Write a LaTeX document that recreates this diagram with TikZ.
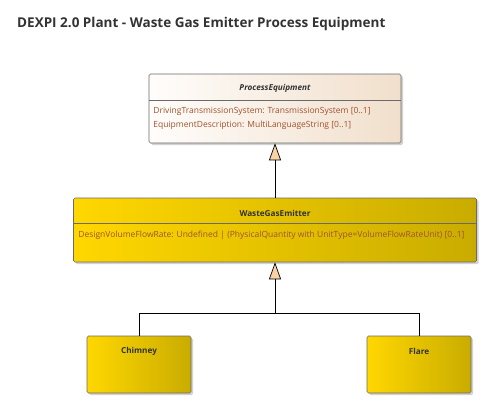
\documentclass[tikz,border=0pt]{standalone}
\usepackage{fontspec}
\setmainfont{Open Sans}
\usetikzlibrary{arrows.meta, positioning, calc, shadows}

\definecolor{txtgray}{HTML}{333333}
\definecolor{attrbrown}{HTML}{A0522D}
\definecolor{edgegray}{HTML}{6A6A6A}
\definecolor{goldlight}{HTML}{FFD700}
\definecolor{golddark}{HTML}{C9AC00}
\definecolor{cream}{HTML}{FFFDFB}
\definecolor{beige}{HTML}{F1DFCC}
\definecolor{peach}{HTML}{F9D3A6}

\begin{document}
\begin{tikzpicture}[
  x=1pt, y=-1pt,
  classbox/.style={rectangle, draw=edgegray, rounded corners=1.5pt, line width=0.6pt,
    drop shadow={shadow xshift=2pt, shadow yshift=-2pt, fill=black!35, opacity=0.5}},
  abstractbox/.style={classbox, left color=cream, right color=beige},
  goldbox/.style={classbox, left color=goldlight, middle color=goldlight, right color=golddark},
  classname/.style={font=\fontsize{8.2}{9}\selectfont\bfseries, text=txtgray, inner sep=0pt},
  attr/.style={font=\fontsize{8.5}{13.5}\selectfont, text=attrbrown, align=left, inner sep=0pt},
  gen/.style={-{Triangle[length=17pt, width=12pt, fill=peach]}, line width=0.7pt}
]
\useasboundingbox (0,0) rectangle (487,404);

% title
\node[anchor=west, font=\fontsize{13.5}{15}\selectfont\bfseries, text=txtgray, inner sep=0pt]
  (title) at (17,24) {DEXPI 2.0 Plant - Waste Gas Emitter Process Equipment};

% abstract parent
\node (pe) [abstractbox, minimum width=252pt, minimum height=69pt] at (275,108.5) {};
\node (pe name) [classname, font=\fontsize{8.2}{9}\selectfont\bfseries\itshape]
  at ($(pe.north)+(0,-15pt)$) {ProcessEquipment};
\draw[edgegray, line width=0.6pt] ($(pe.north west)+(0,-27pt)$) -- ($(pe.north east)+(0,-27pt)$);
\node (pe attr) [attr, anchor=north west] at ($(pe.north west)+(4.5pt,-33.5pt)$)
  {DrivingTransmissionSystem: TransmissionSystem [0..1]\\EquipmentDescription: MultiLanguageString [0..1]};

% waste gas emitter
\node (wge) [goldbox, minimum width=403pt, minimum height=64pt] at (275,230) {};
\node (wge name) [classname] at ($(wge.north)+(0,-16pt)$) {WasteGasEmitter};
\draw[edgegray, line width=0.6pt] ($(wge.north west)+(0,-26pt)$) -- ($(wge.north east)+(0,-26pt)$);
\node (wge attr) [attr, anchor=west] at ($(wge.north west)+(5pt,-38pt)$)
  {DesignVolumeFlowRate: Undefined | (PhysicalQuantity with UnitType=VolumeFlowRateUnit) [0..1]};

% subtypes
\node (chimney) [goldbox, minimum width=104pt, minimum height=57pt] at (139,364.5) {};
\node (chimney name) [classname] at ($(chimney.north)+(0,-16pt)$) {Chimney};
\node (flare) [goldbox, minimum width=104pt, minimum height=57pt] at (419,364.5) {};
\node (flare name) [classname] at ($(flare.north)+(0,-16pt)$) {Flare};

% generalizations
\coordinate (split) at (275,313);
\draw[line width=0.7pt] (chimney.north) |- (split);
\draw[line width=0.7pt] (flare.north) |- (split);
\draw[gen] (split) -- (split |- wge.south);
\draw[gen] (wge.north) -- (pe.south);

\end{tikzpicture}
\end{document}
